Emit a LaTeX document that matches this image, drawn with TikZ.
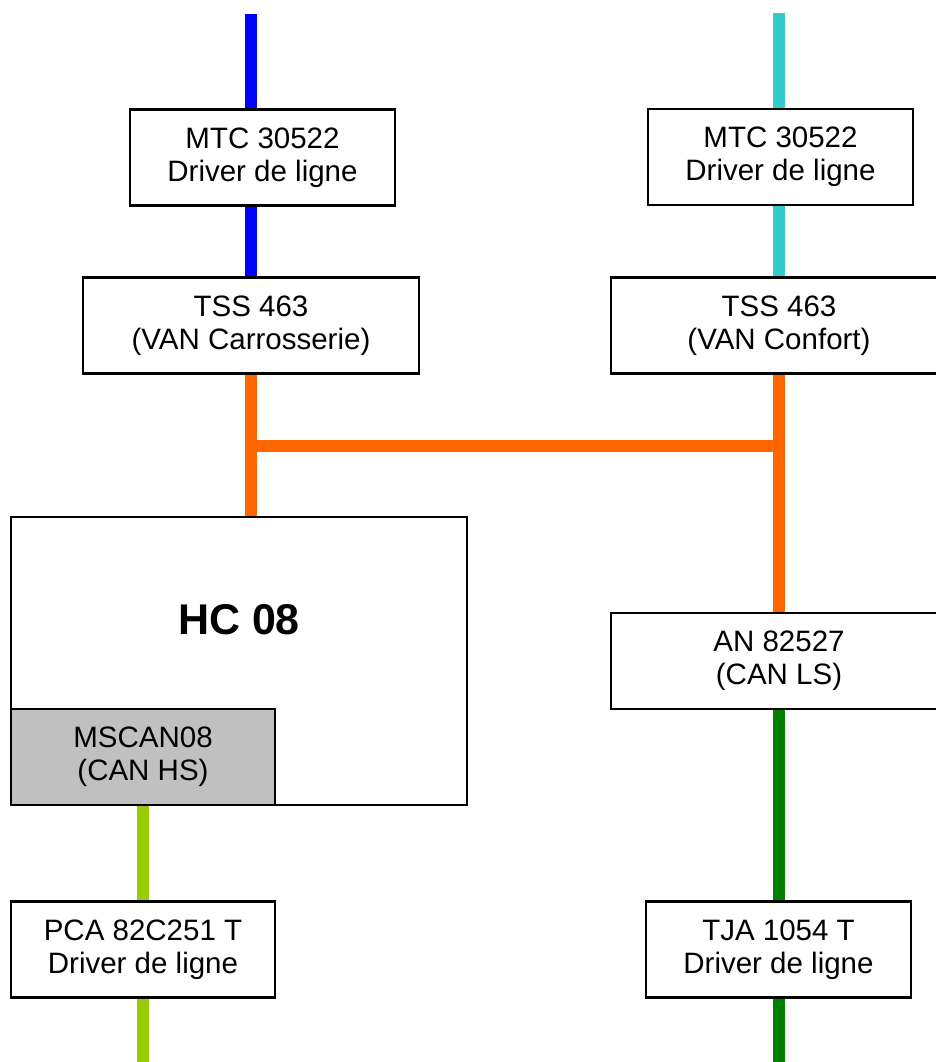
\documentclass[tikz,border=0pt]{standalone}
\usepackage{fontspec}
\setmainfont{Liberation Sans}
\usetikzlibrary{positioning, calc}
\definecolor{vanblue}{HTML}{0000FF}
\definecolor{vancyan}{HTML}{33CCCC}
\definecolor{busorange}{HTML}{FF6600}
\definecolor{canhsgreen}{HTML}{99CC00}
\definecolor{canlsgreen}{HTML}{008000}
\definecolor{chipgray}{HTML}{C0C0C0}

\begin{document}
\begin{tikzpicture}[
    x=1pt, y=-1pt,
    chip/.style={rectangle, draw=black, line width=2.5pt, fill=white, inner sep=0pt,
                 minimum width=#1, minimum height=96pt, align=center,
                 font=\fontsize{29.5}{33}\selectfont},
    chip/.default=265pt,
    bus/.style={line width=12pt, #1}
]
\useasboundingbox (0,0) rectangle (936,1062);

% Free ends of the buses
\coordinate (topL) at (251,14);
\coordinate (topR) at (779,13);
\coordinate (botL) at (143,1062);
\coordinate (botR) at (779,1062);
\coordinate (busL) at (251,446);
\coordinate (busR) at (779,446);

% VAN side (top)
\node[chip] at (262.5,157.5) (mtcL) {MTC 30522\\Driver de ligne};
\node[chip] at (780.5,157) (mtcR) {MTC 30522\\Driver de ligne};
\node[chip=336pt] at (251,325.5) (tssL) {TSS 463\\(VAN Carrosserie)};
\node[chip=336pt] at (779,325.5) (tssR) {TSS 463\\(VAN Confort)};

% Microcontroller
\node[chip=456pt, minimum height=288pt] at (239,661) (hc) {};
\node[font=\fontsize{43}{48}\selectfont\bfseries] at (239,620) (hclbl) {HC 08};
\node[chip=264pt, fill=chipgray] at (143,757) (mscan) {MSCAN08\\(CAN HS)};

% CAN side
\node[chip=336pt] at (779,661) (an) {AN 82527\\(CAN LS)};
\node[chip=264pt] at (143,949.5) (pca) {PCA 82C251 T\\Driver de ligne};
\node[chip] at (778.5,949.5) (tja) {TJA 1054 T\\Driver de ligne};

% VAN Carrosserie
\draw[bus=vanblue] (topL) -- (mtcL.north -| topL);
\draw[bus=vanblue] (mtcL.south -| topL) -- (tssL.north -| topL);

% VAN Confort
\draw[bus=vancyan] (topR) -- (mtcR.north -| topR);
\draw[bus=vancyan] (mtcR.south -| topR) -- (tssR.north -| topR);

% Internal bus
\draw[bus=busorange] (tssL.south -| topL) -- (hc.north -| topL);
\draw[bus=busorange] (tssR.south -| topR) -- (an.north -| topR);
\draw[bus=busorange] (busL) -- (busR);

% CAN HS / CAN LS
\draw[bus=canhsgreen] (mscan.south -| botL) -- (pca.north -| botL);
\draw[bus=canhsgreen] (pca.south -| botL) -- (botL);
\draw[bus=canlsgreen] (an.south -| botR) -- (tja.north -| botR);
\draw[bus=canlsgreen] (tja.south -| botR) -- (botR);

\end{tikzpicture}
\end{document}
